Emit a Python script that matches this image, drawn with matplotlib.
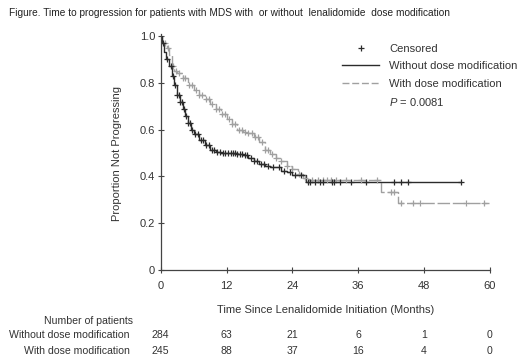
import numpy as np
import matplotlib
matplotlib.use("Agg")
import matplotlib.pyplot as plt
from matplotlib.lines import Line2D
from matplotlib.ticker import FuncFormatter

plt.rcParams['font.family'] = ['Liberation Sans', 'DejaVu Sans']
plt.rcParams['mathtext.fontset'] = 'custom'
plt.rcParams['mathtext.it'] = 'Liberation Sans:italic'
plt.rcParams['mathtext.rm'] = 'Liberation Sans'

# KM step curves (time in months, proportion not progressing)
t_without = [0, 0.2, 0.6, 1.0, 1.5, 2.0, 2.5, 3.0, 3.5, 4.0, 4.5, 5.0, 5.5, 6.0, 7.0, 8.0,
             9.0, 10.0, 11.0, 14.0, 15.0, 16.0, 17.0, 18.0, 19.0, 20.0, 22.0, 23.0, 24.0,
             26.5, 54.7]
s_without = [1.0, 0.97, 0.93, 0.90, 0.87, 0.83, 0.79, 0.75, 0.72, 0.69, 0.66, 0.63, 0.60,
             0.58, 0.555, 0.535, 0.515, 0.505, 0.50, 0.495, 0.49, 0.48, 0.465, 0.455,
             0.445, 0.44, 0.425, 0.42, 0.405, 0.377, 0.377]

t_with = [0, 0.2, 1.2, 1.6, 2.0, 2.4, 3.0, 4.0, 5.0, 6.0, 7.0, 8.0, 9.0, 10.0, 11.0, 12.0,
          13.0, 14.0, 15.0, 16.0, 17.0, 18.0, 19.0, 20.0, 21.0, 22.0, 23.0, 24.0, 25.0,
          26.0, 27.0, 40.2, 43.2, 59.8]
s_with = [1.0, 0.97, 0.95, 0.92, 0.87, 0.85, 0.84, 0.82, 0.79, 0.77, 0.75, 0.73, 0.71,
          0.69, 0.665, 0.645, 0.625, 0.60, 0.59, 0.585, 0.57, 0.545, 0.515, 0.495, 0.48,
          0.465, 0.445, 0.43, 0.41, 0.395, 0.385, 0.335, 0.285, 0.285]

cens_without = [0.5, 1.2, 1.8, 2.2, 2.6, 3.0, 3.3, 3.6, 3.9, 4.2, 4.6, 5.0, 5.4, 5.8, 6.3,
                6.8, 7.3, 7.8, 8.3, 8.8, 9.3, 9.8, 10.3, 10.8, 11.3, 11.8, 12.3, 12.8,
                13.2, 13.6, 14.0, 14.4, 14.8, 15.3, 15.8, 16.4, 17.0, 17.6, 18.2, 18.8,
                19.5, 20.5, 21.5, 22.5, 23.5, 24.5, 25.5, 26.8, 27.3, 28.2, 29.0, 29.6,
                31.2, 31.6, 32.6, 34.7, 37.4, 42.6, 43.8, 45.0, 54.7]
cens_with = [0.8, 1.4, 2.2, 2.8, 3.4, 4.0, 4.5, 5.2, 5.8, 6.4, 7.0, 7.6, 8.2, 8.8, 9.4,
             10.0, 10.6, 11.2, 11.8, 12.4, 13.0, 13.6, 14.2, 14.8, 15.4, 16.0, 16.6, 17.2,
             17.8, 18.4, 19.0, 19.6, 20.3, 21.0, 22.0, 23.0, 24.0, 25.2, 26.3, 27.5, 28.6,
             29.5, 30.3, 31.0, 32.0, 33.8, 36.5, 39.4, 42.0, 42.6, 43.8, 46.0, 47.2, 55.6,
             59.0]

risk_times = [0, 12, 24, 36, 48, 60]
risk_without = [284, 63, 21, 6, 1, 0]
risk_with = [245, 88, 37, 16, 4, 0]

c_without = '#2b2b2b'
c_with = '#a0a0a0'
c_text = '#333333'
fs = 8
fs_tab = 7.6


def step_value(t, s, x):
    idx = np.searchsorted(t, x, side='right') - 1
    return np.asarray(s)[idx]


fig = plt.figure(figsize=(5.2, 3.62), dpi=100)
ax = fig.add_axes([0.309, 0.2541, 0.633, 0.6464])

ax.step(t_with, s_with, where='post', color=c_with, lw=1.0, dashes=(9, 2))
ax.step(t_without, s_without, where='post', color=c_without, lw=1.0)
ax.plot(cens_with, step_value(t_with, s_with, cens_with), ls='none', marker='+',
        ms=5, mew=0.9, color=c_with)
ax.plot(cens_without, step_value(t_without, s_without, cens_without), ls='none',
        marker='+', ms=5, mew=0.9, color=c_without)

ax.set_xlim(0, 60)
ax.set_ylim(0, 1.0)
ax.set_xticks(risk_times)
ax.set_yticks([0, 0.2, 0.4, 0.6, 0.8, 1.0])
ax.yaxis.set_major_formatter(FuncFormatter(lambda v, p: '0' if v == 0 else f'{v:.1f}'))
for side in ['top', 'right']:
    ax.spines[side].set_visible(False)
for side in ['left', 'bottom']:
    ax.spines[side].set_color('#444444')
    ax.spines[side].set_linewidth(0.9)
ax.spines['left'].set_bounds(0, 1.01)
ax.tick_params(axis='both', labelsize=fs, colors='#444444', labelcolor=c_text,
               length=4, width=0.8, direction='inout')
ax.tick_params(axis='x', pad=6)
ax.tick_params(axis='y', pad=2)
ax.set_xlabel('Time Since Lenalidomide Initiation (Months)', fontsize=fs,
              color=c_text, labelpad=10)
ax.set_ylabel('Proportion Not Progressing', fontsize=fs, color=c_text, labelpad=13)

handles = [Line2D([], [], ls='none', marker='+', ms=5, mew=0.9, color=c_without),
           Line2D([], [], color=c_without, lw=1.0),
           Line2D([], [], color=c_with, lw=1.0, dashes=(5, 2)),
           Line2D([], [], ls='none')]
labels = ['Censored', 'Without dose modification', 'With dose modification',
          r'$P$ = 0.0081']
ax.legend(handles, labels, loc='upper left', bbox_to_anchor=(0.552, 0.968),
          frameon=False, fontsize=fs, handlelength=3.3, handletextpad=0.9,
          labelspacing=0.68, borderpad=0, borderaxespad=0, labelcolor=c_text)

fig.text(0.017, 0.965, 'Figure. Time to progression for patients with MDS with  or without  '
         'lenalidomide  dose modification', fontsize=7.3, color='#222222', va='center')

# number at risk table
row_y = [0.112, 0.0746, 0.031]
fig.text(0.256, row_y[0], 'Number of patients', fontsize=fs_tab, color=c_text,
         ha='right', va='center')
fig.text(0.249, row_y[1], 'Without dose modification', fontsize=fs_tab, color=c_text,
         ha='right', va='center')
fig.text(0.249, row_y[2], 'With dose modification', fontsize=fs_tab, color=c_text,
         ha='right', va='center')
tr = ax.get_xaxis_transform()
for x, a, b in zip(risk_times, risk_without, risk_with):
    ax.annotate(str(a), xy=(x, 0), xycoords=tr, xytext=(x, row_y[1]),
                textcoords=('data', 'figure fraction'), fontsize=fs_tab, color=c_text,
                ha='center', va='center')
    ax.annotate(str(b), xy=(x, 0), xycoords=tr, xytext=(x, row_y[2]),
                textcoords=('data', 'figure fraction'), fontsize=fs_tab, color=c_text,
                ha='center', va='center')

fig.savefig('out.png', dpi=100)
